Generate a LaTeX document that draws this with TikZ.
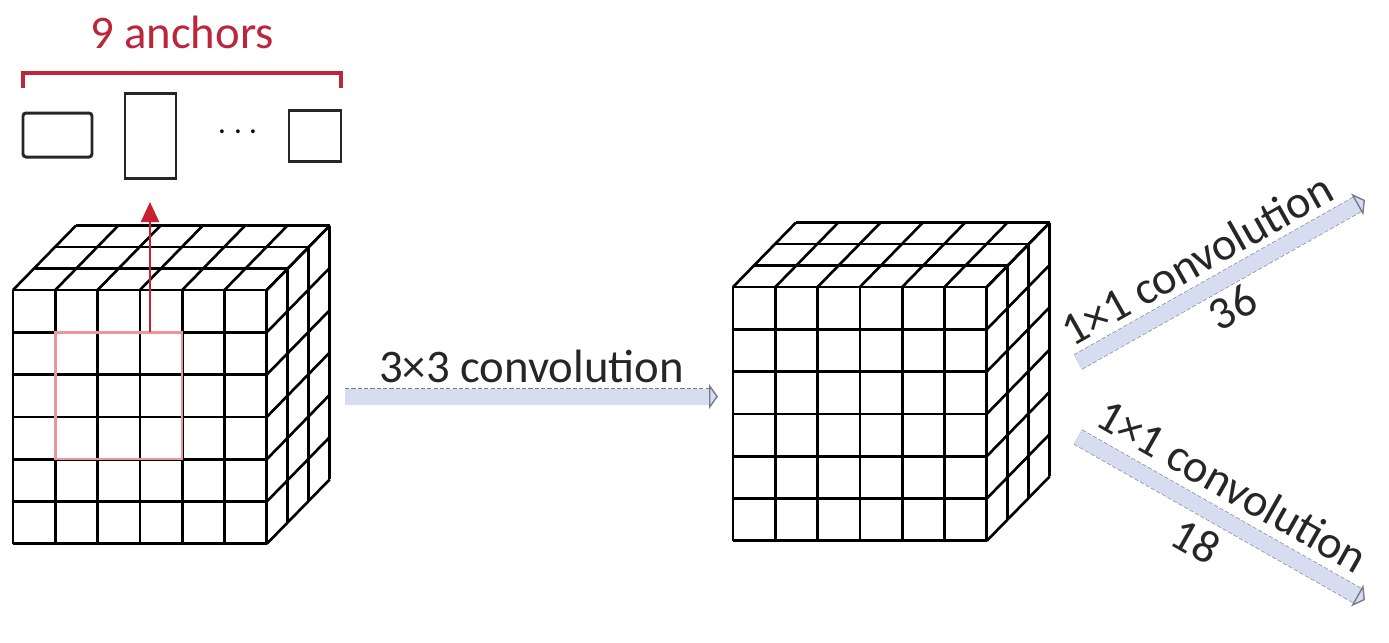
\documentclass[tikz,border=0pt]{standalone}
\usepackage{fontspec}
\setmainfont{Carlito}
\usetikzlibrary{arrows.meta,calc,positioning}
\definecolor{convblue}{RGB}{214,221,240}
\definecolor{convedge}{RGB}{120,124,138}
\definecolor{anchorred}{RGB}{188,38,58}
\definecolor{winred}{RGB}{236,150,156}
\definecolor{labelgray}{RGB}{38,38,38}
\newcommand{\cellsz}{42.3}
\tikzset{
    cubesty/.style={draw=black, line width=0.75pt},
    winsty/.style={draw=winred, line width=0.7pt},
    anchorsty/.style={draw=black!85, line width=0.85pt, rectangle, inner sep=0pt, outer sep=0pt},
    bracketsty/.style={draw=anchorred, line width=1.2pt},
    labelsty/.style={font=\fontsize{13.3}{16}\selectfont, text=labelgray, inner sep=0pt, outer sep=0pt},
    slopesty/.style={labelsty, font=\fontsize{13.2}{16}\selectfont, sloped},
    redarrow/.style={draw=anchorred!85!red, line width=0.7pt, -{Triangle[length=2mm, width=1.8mm]}},
    convsty/.style={draw=convblue, line width=1.6mm,
        -{Triangle[length=0.9mm, width=2.5mm, fill=convblue, color=convedge, line width=0.4pt]},
        preaction={draw=convedge, line width=1.72mm, dash pattern=on 1.2pt off 0.6pt, -, shorten >=0.8mm}},
}
% #1 = upper left corner of the front face
\newcommand{\featcube}[1]{%
  \begin{scope}[shift={#1}, cubesty]
    \foreach \i in {0,...,6} {
      \draw (\i*\cellsz,0) -- ++(0,6*\cellsz);
      \draw (0,\i*\cellsz) -- ++(6*\cellsz,0);
      \draw (\i*\cellsz,0) -- ++(63,-64.5);
      \draw (6*\cellsz,\i*\cellsz) -- ++(63,-64.5);
    }
    \foreach \k in {1,2,3} {
      \draw (\k*21,-\k*21.5) -- ++(6*\cellsz,0);
      \draw (6*\cellsz+\k*21,-\k*21.5) -- ++(0,6*\cellsz);
    }
  \end{scope}}

\begin{document}
\begin{tikzpicture}[x=0.1mm, y=-0.1mm]
  \useasboundingbox (0,0) rectangle (1389,642);

  % feature maps
  \featcube{(13,290)}
  \featcube{(733,287)}

  % 3x3 window
  \draw[winsty] (13+\cellsz,290+\cellsz) rectangle ++(3*\cellsz,3*\cellsz);
  \coordinate (wintop) at (150,332);
  \coordinate (wintip) at (150,202);
  \draw[redarrow] (wintop) -- (wintip);

  % anchors
  \node[anchorsty, minimum width=6.9mm, minimum height=4.4mm, rounded corners=0.3mm] (anchorwide) at (57.5,135) {};
  \node[anchorsty, minimum width=5.1mm, minimum height=8.5mm] (anchortall) at (150.5,135.5) {};
  \node[inner sep=0pt] (anchordots) at (238,133) {$\cdots$};
  \node[anchorsty, minimum width=5.2mm, minimum height=5.1mm] (anchorsq) at (315,135.5) {};
  \draw[bracketsty] (anchorwide.west |- 0,88) -- (anchorwide.west |- 0,73)
    -- (anchorsq.east |- 0,73) -- (anchorsq.east |- 0,88);
  \node[labelsty, text=anchorred] (anchortitle) at (182,32) {9 anchors};

  % convolutions
  \coordinate (convstart) at (345,396.5);
  \coordinate (convend) at (718,396.5);
  \draw[convsty] (convstart) -- (convend)
    node[labelsty, midway, above=4pt] {3×3 convolution};

  \coordinate (regstart) at (1078,362);
  \coordinate (regend) at (1365,200);
  \draw[convsty] (regstart) -- (regend)
    node[slopesty, pos=0.467, above=4.2pt] {1×1 convolution}
    node[slopesty, pos=0.49, below=3.5pt] {36};

  \coordinate (clsstart) at (1078,437);
  \coordinate (clsend) at (1365,600);
  \draw[convsty] (clsstart) -- (clsend)
    node[slopesty, pos=0.48, above=5pt] {1×1 convolution}
    node[slopesty, pos=0.467, below=4.6pt] {18};
\end{tikzpicture}
\end{document}
